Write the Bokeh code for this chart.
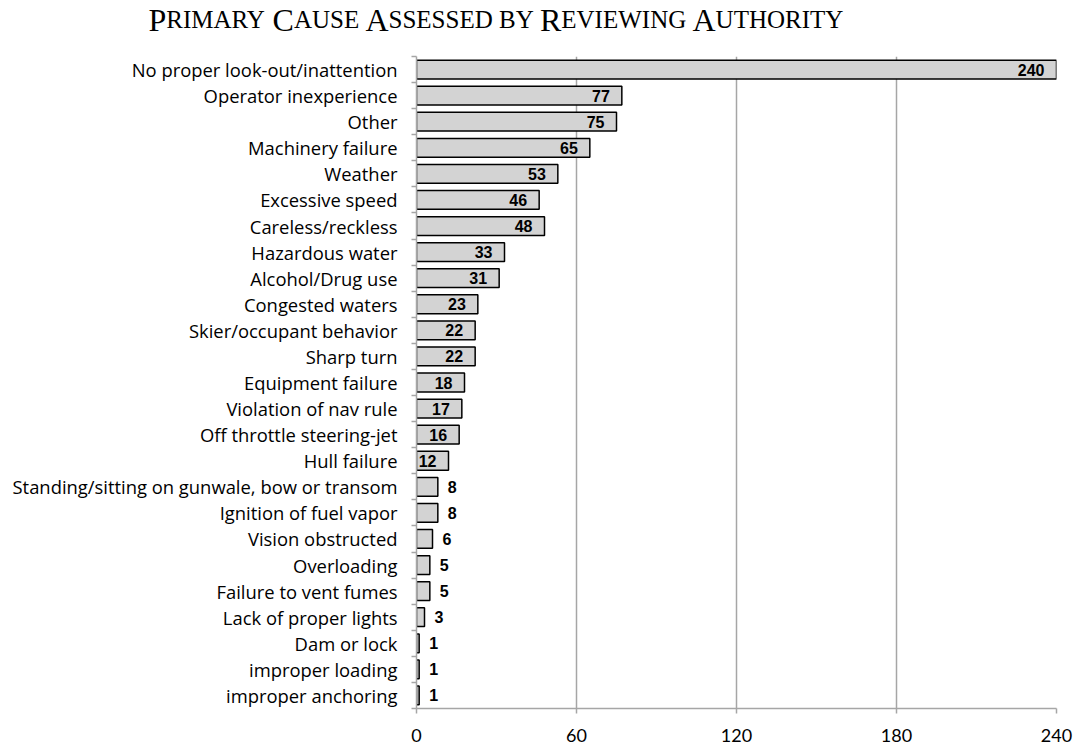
from bokeh.plotting import figure
from bokeh.models import Range1d, FixedTicker, ColumnDataSource
from bokeh.layouts import column
from bokeh.core.properties import value
from bokeh.embed import file_html
from bokeh.resources import INLINE

# ---- data ----
categories = [
    "No proper look-out/inattention",
    "Operator inexperience",
    "Other",
    "Machinery failure",
    "Weather",
    "Excessive speed",
    "Careless/reckless",
    "Hazardous water",
    "Alcohol/Drug use",
    "Congested waters",
    "Skier/occupant behavior",
    "Sharp turn",
    "Equipment failure",
    "Violation of nav rule",
    "Off throttle steering-jet",
    "Hull failure",
    "Standing/sitting on gunwale, bow or transom",
    "Ignition of fuel vapor",
    "Vision obstructed",
    "Overloading",
    "Failure to vent fumes",
    "Lack of proper lights",
    "Dam or lock",
    "improper loading",
    "improper anchoring",
]
values = [240, 77, 75, 65, 53, 46, 48, 33, 31, 23, 22, 22, 18, 17, 16, 12,
          8, 8, 6, 5, 5, 3, 1, 1, 1]
x_ticks = [0, 60, 120, 180, 240]
title_words = ["Primary", "Cause", "Assessed", "by", "Reviewing", "Authority"]

W, H = 1090, 754
TITLE_H = 45
MB_L, MB_R, MB_T, MB_B = 416, 34, 56 - TITLE_H, 46

# ---- title figure (small caps emulation) ----
tf = figure(width=W, height=TITLE_H, x_range=Range1d(0, W), y_range=Range1d(0, TITLE_H),
            toolbar_location=None, output_backend="svg", min_border=0,
            x_axis_location=None, y_axis_location=None)
tf.frame_align = False
tf.grid.visible = False
tf.outline_line_color = None

adv = {"A": 722, "B": 667, "C": 667, "D": 722, "E": 611, "G": 722, "H": 722, "I": 333,
       "M": 889, "N": 722, "O": 722, "P": 556, "R": 667, "S": 556, "T": 611, "U": 722,
       "V": 722, "W": 944, "Y": 722, " ": 250}
L, S = 32, 25
tx, tt, ts = [], [], []
cx = 148.0
for w in title_words:
    first = w[0]
    if first.isupper():
        tx.append(cx); tt.append(first); ts.append(f"{L}px")
        cx += adv[first] * L / 1000
        rest = w[1:].upper()
    else:
        rest = w.upper()
    tx.append(cx); tt.append(rest); ts.append(f"{S}px")
    cx += sum(adv[c] for c in rest) * S / 1000 + adv[" "] * S / 1000
tsrc = ColumnDataSource(dict(x=tx, y=[TITLE_H - 19] * len(tx), t=tt, s=ts))
tf.text(x="x", y="y", text="t", text_font_size="s", source=tsrc,
        text_font=value("Liberation Serif"), text_baseline="alphabetic",
        text_align="left", text_color="black")

# ---- main chart ----
n = len(categories)
ypos = list(range(n))
src = ColumnDataSource(dict(y=ypos, v=values, lab=[str(v) for v in values]))

p = figure(width=W, height=H - TITLE_H, x_range=Range1d(0, 240),
           y_range=Range1d(n - 0.5, -0.5),
           toolbar_location=None, output_backend="svg",
           min_border_left=MB_L, min_border_right=MB_R, min_border_top=MB_T,
           min_border_bottom=MB_B)
p.frame_align = False
p.outline_line_color = None

p.hbar(y="y", left=0, right="v", height=0.72, source=src,
       fill_color="#d3d3d3", line_color="black", line_width=1.5)

inside = [i for i, v in enumerate(values) if v >= 10]
outside = [i for i, v in enumerate(values) if v < 10]
src_in = ColumnDataSource(dict(y=[ypos[i] for i in inside], v=[values[i] for i in inside],
                               lab=[str(values[i]) for i in inside]))
src_out = ColumnDataSource(dict(y=[ypos[i] for i in outside], v=[values[i] for i in outside],
                                lab=[str(values[i]) for i in outside]))
p.text(x="v", y="y", text="lab", source=src_in, x_offset=-12, text_align="right",
       text_baseline="middle", text_font=value("Liberation Sans"), text_font_style="bold",
       text_font_size="16px", text_color="black")
p.text(x="v", y="y", text="lab", source=src_out, x_offset=10, text_align="left",
       text_baseline="middle", text_font=value("Liberation Sans"), text_font_style="bold",
       text_font_size="16px", text_color="black")

GRAY = "#a6a6a6"
# x axis
p.xaxis.ticker = FixedTicker(ticks=x_ticks, minor_ticks=[])
p.xaxis.axis_line_color = GRAY
p.xaxis.axis_line_width = 1.5
p.xaxis.major_tick_line_color = GRAY
p.xaxis.major_tick_line_width = 1.5
p.xaxis.major_tick_out = 5
p.xaxis.major_tick_in = 0
p.xaxis.minor_tick_line_color = None
p.xaxis.major_label_standoff = 15
p.xaxis.major_label_text_font = "Lato"
p.xaxis.major_label_text_font_size = "18px"
p.xaxis.major_label_text_color = "black"

# y axis
p.yaxis.ticker = FixedTicker(ticks=ypos, minor_ticks=[i - 0.5 for i in range(n + 1)])
p.yaxis.major_label_overrides = {i: c for i, c in enumerate(categories)}
p.yaxis.axis_line_color = GRAY
p.yaxis.axis_line_width = 1.5
p.yaxis.major_tick_line_color = None
p.yaxis.major_tick_out = 0
p.yaxis.major_tick_in = 0
p.yaxis.minor_tick_line_color = GRAY
p.yaxis.minor_tick_line_width = 1.5
p.yaxis.minor_tick_out = 5
p.yaxis.minor_tick_in = 0
p.yaxis.major_label_standoff = 14
p.yaxis.major_label_text_font = "Open Sans"
p.yaxis.major_label_text_font_size = "18.4px"
p.yaxis.major_label_text_color = "black"

# grid
p.ygrid.visible = False
p.xgrid.ticker = FixedTicker(ticks=x_ticks[1:], minor_ticks=[])
p.xgrid.grid_line_color = GRAY
p.xgrid.grid_line_width = 1.5

layout = column(tf, p, spacing=0)
open("out.html", "w").write(file_html(layout, INLINE))
